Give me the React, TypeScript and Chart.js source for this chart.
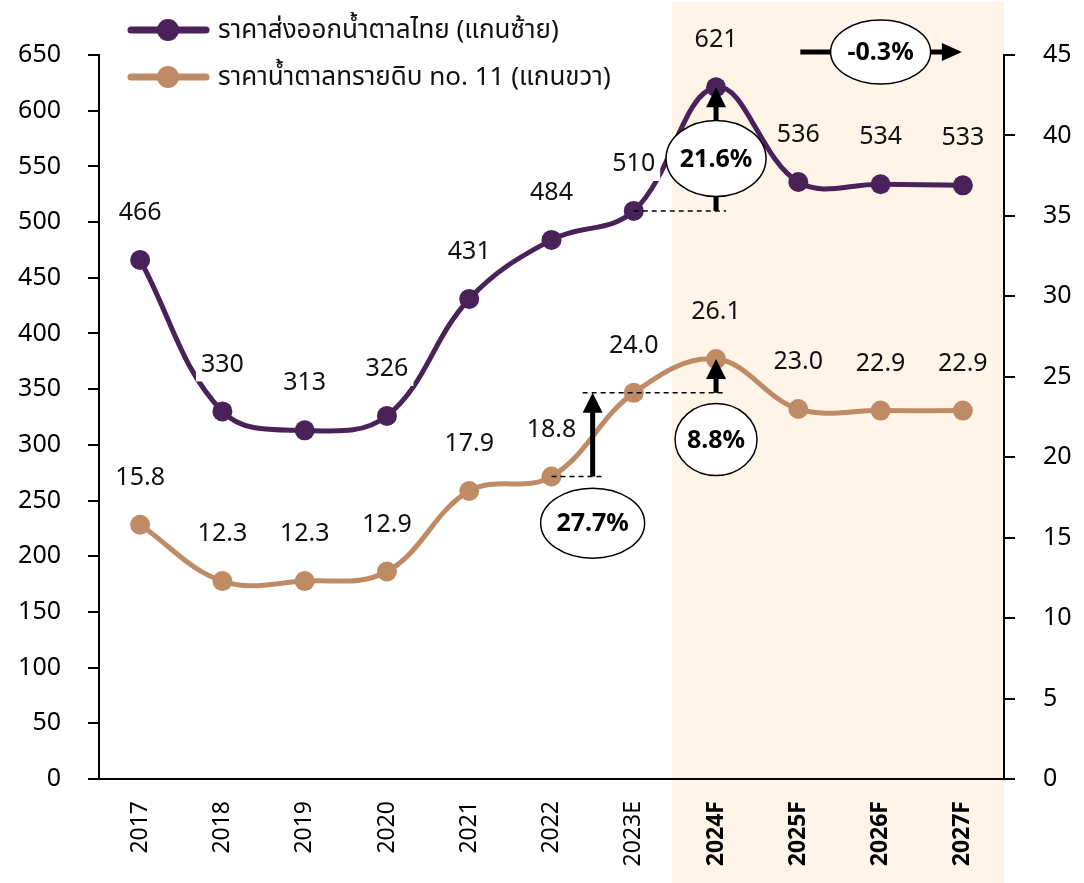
import React, { useEffect, useRef } from 'react';
import { Chart, registerables } from 'chart.js';

Chart.register(...registerables);

const categories = ['2017', '2018', '2019', '2020', '2021', '2022', '2023E', '2024F', '2025F', '2026F', '2027F'];
const thaiExportPrice = [466, 330, 313, 326, 431, 484, 510, 621, 536, 534, 533];
const rawSugarNo11 = [15.8, 12.3, 12.3, 12.9, 17.9, 18.8, 24.0, 26.1, 23.0, 22.9, 22.9];
const seriesNames = ['ราคาส่งออกน้ำตาลไทย (แกนซ้าย)', 'ราคาน้ำตาลทรายดิบ no. 11 (แกนขวา)'];
const forecastFromIndex = 7;
const leftAxisRange = [0, 650, 50];
const rightAxisRange = [0, 45, 5];

// growth call-outs, anchored in data units
const verticalArrows = [
  { label: '21.6%', axis: 'yL', at: 7, from: 510, to: 621, labelAt: 557 },
  { label: '27.7%', axis: 'yR', at: 5.5, from: 18.8, to: 24.0, labelAt: 15.9 },
  { label: '8.8%', axis: 'yR', at: 7, from: 24.0, to: 26.1, labelAt: 21.1 },
];
const horizontalArrows = [{ label: '-0.3%', from: 8, to: 10, at: 9 }];
const guideLines = [
  { axis: 'yL', value: 510, from: 6, to: 7 },
  { axis: 'yR', value: 18.8, from: 5, to: 5.5 },
  { axis: 'yR', value: 24.0, from: 5.5, to: 7 },
];

const PURPLE = '#4A2158';
const BROWN = '#BF8B64';
const SHADE = '#FEF5E8';
const FONT = '"Noto Sans", "Noto Sans Thai", Tahoma, "DejaVu Sans", sans-serif';

const ellipseSizes: Record<string, [number, number]> = {
  '21.6%': [50, 38],
  '27.7%': [52, 35],
  '8.8%': [41, 36],
  '-0.3%': [50, 32],
};

function drawEllipse(ctx: CanvasRenderingContext2D, cx: number, cy: number, label: string) {
  const [rx, ry] = ellipseSizes[label] || [45, 32];
  ctx.save();
  ctx.beginPath();
  ctx.ellipse(cx, cy, rx, ry, 0, 0, Math.PI * 2);
  ctx.fillStyle = '#fff';
  ctx.fill();
  ctx.lineWidth = 1.5;
  ctx.strokeStyle = '#000';
  ctx.stroke();
  ctx.fillStyle = '#000';
  ctx.font = `bold 25px ${FONT}`;
  ctx.textAlign = 'center';
  ctx.textBaseline = 'middle';
  ctx.fillText(label, cx, cy + 1);
  ctx.restore();
}

const shadePlugin = {
  id: 'shade',
  beforeDraw(chart: any) {
    const { ctx, scales, chartArea } = chart;
    const x0 = scales.x.getPixelForValue(forecastFromIndex - 0.5) - 3;
    ctx.save();
    ctx.fillStyle = SHADE;
    ctx.fillRect(x0, 2, chartArea.right - x0, chart.height - 2);
    ctx.restore();
  },
};

const labelsPlugin = {
  id: 'valueLabels',
  afterDatasetsDraw(chart: any) {
    const { ctx } = chart;
    ctx.save();
    ctx.font = `25px ${FONT}`;
    ctx.textAlign = 'center';
    ctx.textBaseline = 'middle';
    chart.data.datasets.forEach((ds: any, di: number) => {
      const meta = chart.getDatasetMeta(di);
      meta.data.forEach((pt: any, i: number) => {
        const v = ds.data[i];
        const text = di === 0 ? String(v) : v.toFixed(1);
        const x = pt.x;
        const y = pt.y - 48;
        if (i < forecastFromIndex) {
          const w = ctx.measureText(text).width + 10;
          ctx.fillStyle = '#fff';
          ctx.fillRect(x - w / 2, y - 16, w, 34);
        }
        ctx.fillStyle = '#111';
        ctx.fillText(text, x, y + 1);
      });
    });
    ctx.restore();
  },
};

const annotationPlugin = {
  id: 'growthNotes',
  afterDatasetsDraw(chart: any) {
    const { ctx, scales, chartArea } = chart;
    const xs = scales.x;
    ctx.save();
    ctx.setLineDash([5, 4]);
    ctx.lineWidth = 1.5;
    ctx.strokeStyle = '#000';
    guideLines.forEach((g) => {
      const y = scales[g.axis].getPixelForValue(g.value);
      const xa = xs.getPixelForValue(g.from) - (Number.isInteger(g.from) ? 0 : 10);
      const xb = xs.getPixelForValue(g.to) + 10;
      ctx.beginPath();
      ctx.moveTo(xa, y);
      ctx.lineTo(xb, y);
      ctx.stroke();
    });
    ctx.setLineDash([]);
    verticalArrows.forEach((a) => {
      const ys = scales[a.axis];
      const x = xs.getPixelForValue(a.at);
      const yBase = ys.getPixelForValue(a.from);
      const yTip = ys.getPixelForValue(a.to);
      const head = 20;
      ctx.fillStyle = '#000';
      ctx.fillRect(x - 2.5, yTip + head - 1, 5, yBase - yTip - head + 1);
      ctx.beginPath();
      ctx.moveTo(x, yTip);
      ctx.lineTo(x - 10, yTip + head);
      ctx.lineTo(x + 10, yTip + head);
      ctx.closePath();
      ctx.fill();
    });
    horizontalArrows.forEach((a) => {
      const y = chartArea.top - 3;
      const xa = xs.getPixelForValue(a.from) + 2;
      const xTip = xs.getPixelForValue(a.to) - 1;
      const head = 20;
      ctx.fillStyle = '#000';
      ctx.fillRect(xa, y - 2.5, xTip - head - xa + 1, 5);
      ctx.beginPath();
      ctx.moveTo(xTip, y);
      ctx.lineTo(xTip - head, y - 9);
      ctx.lineTo(xTip - head, y + 9);
      ctx.closePath();
      ctx.fill();
    });
    verticalArrows.forEach((a) => {
      drawEllipse(ctx, xs.getPixelForValue(a.at), scales[a.axis].getPixelForValue(a.labelAt), a.label);
    });
    horizontalArrows.forEach((a) => {
      drawEllipse(ctx, xs.getPixelForValue(a.at), chartArea.top - 3, a.label);
    });
    ctx.restore();
  },
};

const legendPlugin = {
  id: 'customLegend',
  afterDraw(chart: any) {
    const { ctx } = chart;
    ctx.save();
    chart.data.datasets.forEach((ds: any, i: number) => {
      const y = 30 + i * 47;
      ctx.strokeStyle = ds.borderColor;
      ctx.lineWidth = 7;
      ctx.lineCap = 'round';
      ctx.beginPath();
      ctx.moveTo(131, y);
      ctx.lineTo(206, y);
      ctx.stroke();
      ctx.fillStyle = ds.borderColor;
      ctx.beginPath();
      ctx.arc(168, y, 11, 0, Math.PI * 2);
      ctx.fill();
      ctx.fillStyle = '#111';
      ctx.font = `26px ${FONT}`;
      ctx.textAlign = 'left';
      ctx.textBaseline = 'middle';
      ctx.fillText(ds.label, 218, y + 1);
    });
    ctx.restore();
  },
};

export default function App() {
  const ref = useRef<HTMLCanvasElement | null>(null);
  useEffect(() => {
    if (!ref.current) return;
    const chart = new Chart(ref.current, {
      type: 'line',
      data: {
        labels: categories,
        datasets: [
          {
            label: seriesNames[0],
            data: thaiExportPrice,
            yAxisID: 'yL',
            borderColor: PURPLE,
            backgroundColor: PURPLE,
            pointBackgroundColor: PURPLE,
            borderWidth: 5,
            pointRadius: 10,
            pointBorderWidth: 0,
            tension: 0.38,
          },
          {
            label: seriesNames[1],
            data: rawSugarNo11,
            yAxisID: 'yR',
            borderColor: BROWN,
            backgroundColor: BROWN,
            pointBackgroundColor: BROWN,
            borderWidth: 5,
            pointRadius: 10,
            pointBorderWidth: 0,
            tension: 0.38,
          },
        ],
      },
      options: {
        responsive: false,
        animation: false,
        layout: { padding: { top: 55, left: 0, right: 0, bottom: 0 } },
        plugins: { legend: { display: false }, tooltip: { enabled: false } },
        scales: {
          x: {
            type: 'category',
            offset: true,
            grid: { display: false },
            border: { display: true, color: '#000', width: 2 },
            ticks: {
              autoSkip: false,
              minRotation: 90,
              maxRotation: 90,
              padding: 14,
              color: '#000',
              font: (c: any) => ({ family: FONT, size: 23, weight: c.index >= forecastFromIndex ? 'bold' : 'normal' }),
            },
            afterFit: (s: any) => {
              s.height = 104;
            },
          },
          yL: {
            position: 'left',
            min: leftAxisRange[0],
            max: leftAxisRange[1],
            ticks: { stepSize: leftAxisRange[2], padding: 27, color: '#000', font: { family: FONT, size: 25 } },
            grid: { drawOnChartArea: false, drawTicks: true, tickLength: 11, color: '#000', lineWidth: 2 },
            border: { color: '#000', width: 2 },
            afterFit: (s: any) => {
              s.width = 99;
            },
          },
          yR: {
            position: 'right',
            min: rightAxisRange[0],
            max: rightAxisRange[1],
            ticks: { stepSize: rightAxisRange[2], padding: 28, color: '#000', font: { family: FONT, size: 25 } },
            grid: { drawOnChartArea: false, drawTicks: true, tickLength: 11, color: '#000', lineWidth: 2 },
            border: { color: '#000', width: 2 },
            afterFit: (s: any) => {
              s.width = 80;
            },
          },
        },
      },
      plugins: [shadePlugin, labelsPlugin, annotationPlugin, legendPlugin],
    });
    return () => chart.destroy();
  }, []);
  return (
    <div style={{ position: 'fixed', left: 0, top: 0, width: 1084, height: 883, background: '#fff' }}>
      <canvas ref={ref} width={1084} height={883} style={{ display: 'block' }} />
    </div>
  );
}
